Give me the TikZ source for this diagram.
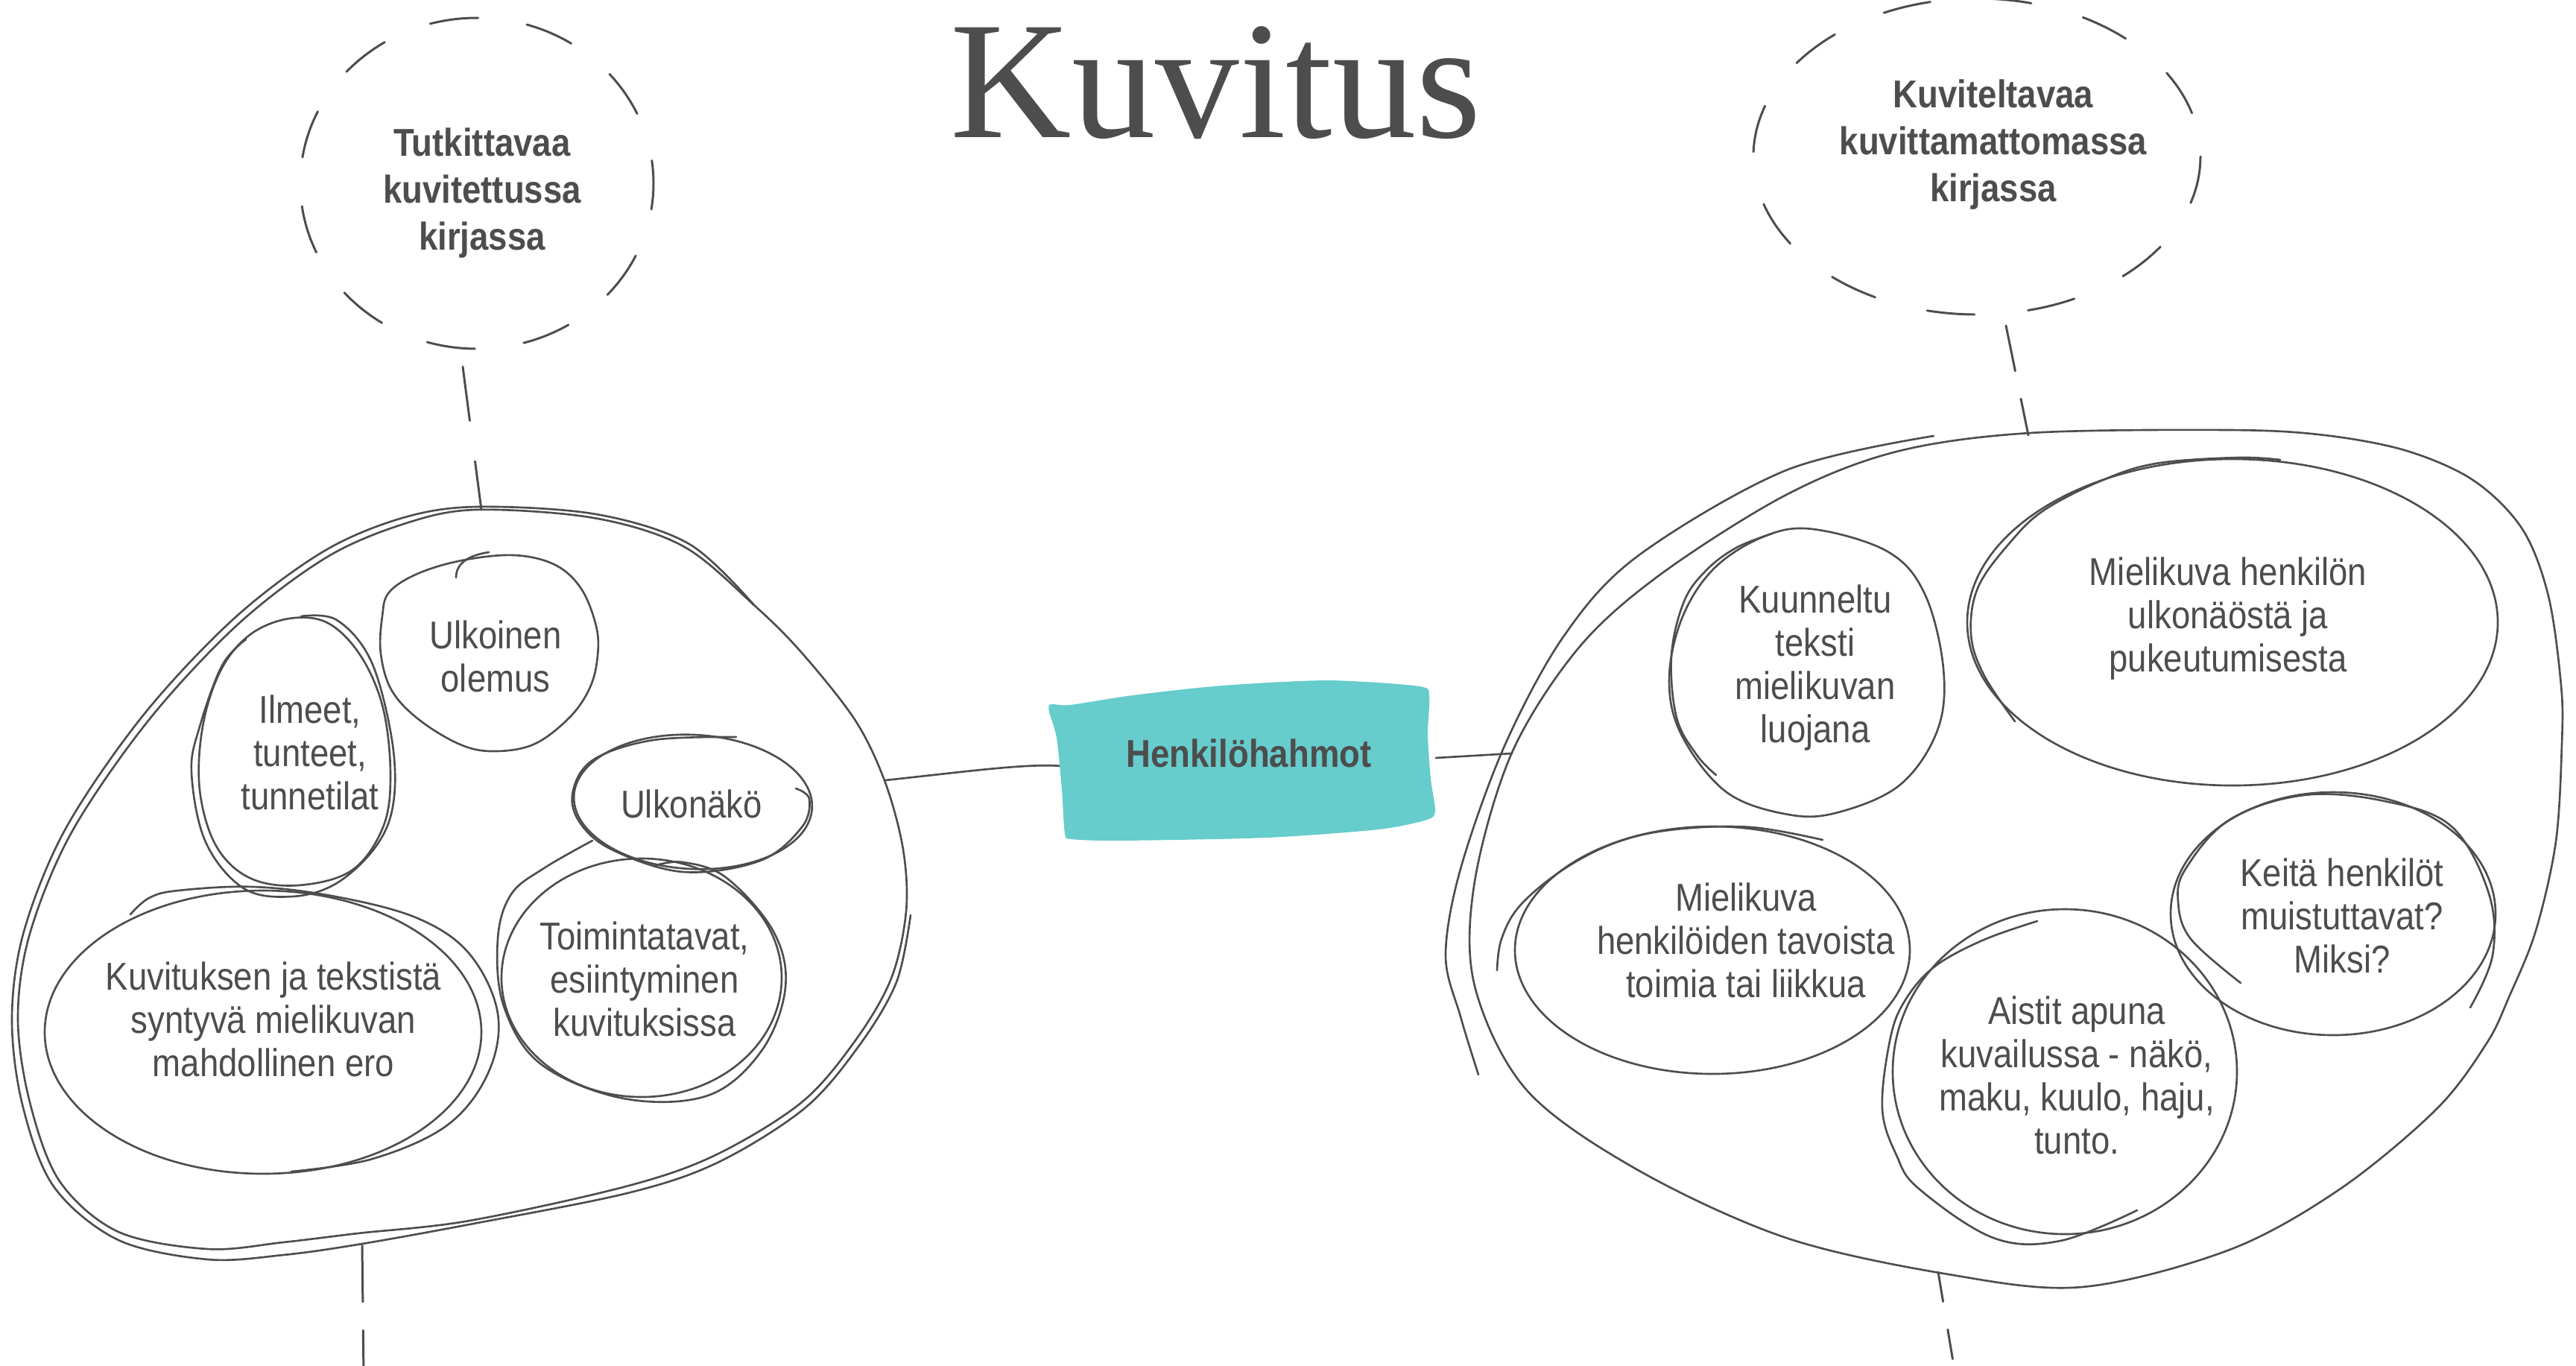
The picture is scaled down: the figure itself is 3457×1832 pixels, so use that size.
\documentclass[tikz,border=0pt]{standalone}
\usepackage{fontspec}
\setmainfont{Liberation Sans}[FakeStretch=0.875]
\newfontfamily\titlefont{Liberation Serif}
\usetikzlibrary{backgrounds}
\definecolor{ink}{HTML}{4D4D4D}
\definecolor{hubfill}{HTML}{66CCCC}
\begin{document}
\begin{tikzpicture}[x=0.01cm, y=-0.01cm,
  sk/.style={draw=ink, line width=0.75pt, line cap=round, line join=round},
  dsk/.style={draw=ink, line width=0.85pt, line cap=round},
  txt/.style={text=ink, align=center, inner sep=0pt, font=\fontsize{14.8}{16.5}\selectfont,
    execute at begin node=\strut, execute at end node=\strut},
  btxt/.style={txt, font=\fontsize{14.8}{17.9}\selectfont\bfseries}]
\useasboundingbox (0,0) rectangle (3457,1832);

% ---------- texts ----------
\node[text=ink, font=\titlefont\fontsize{64}{70}\selectfont, anchor=base, inner sep=0pt] (title) at (1632,184) {Kuvitus};
\node[btxt] (lq) at (647,263) {Tutkittavaa\\kuvitettussa\\kirjassa};
\node[btxt] (rq) at (2675,198) {Kuviteltavaa\\kuvittamattomassa\\kirjassa};
\node[btxt, minimum width=5.0cm, minimum height=2.0cm] (hub) at (1676,1017) {Henkilöhahmot};
\node[txt] (ulk) at (665,889) {Ulkoinen\\olemus};
\node[txt] (ilm) at (416,1018) {Ilmeet,\\tunteet,\\tunnetilat};
\node[txt] (ulkn) at (928,1086) {Ulkonäkö};
\node[txt] (toim) at (865,1322) {Toimintatavat,\\esiintyminen\\kuvituksissa};
\node[txt] (kuv) at (367,1376) {Kuvituksen ja tekstistä\\syntyvä mielikuvan\\mahdollinen ero};
\node[txt] (kuun) at (2436,899) {Kuunneltu\\teksti\\mielikuvan\\luojana};
\node[txt] (mhu) at (2990,833) {Mielikuva henkilön\\ulkonäöstä ja\\pukeutumisesta};
\node[txt] (mht) at (2343,1270) {Mielikuva\\henkilöiden tavoista\\toimia tai liikkua};
\node[txt] (ais) at (2787,1451) {Aistit apuna\\kuvailussa - näkö,\\maku, kuulo, haju,\\tunto.};
\node[txt] (kei) at (3143,1237) {Keitä henkilöt\\muistuttavat?\\Miksi?};

% ---------- coordinates ----------
\coordinate (lbE) at (1188,1047);
\coordinate (rbW) at (2029,1011);
\coordinate (lqS) at (621,492);
\coordinate (lbN) at (646,684);
\coordinate (rqS) at (2692,437);
\coordinate (rbN) at (2722,584);
\coordinate (lbS) at (486,1671);
\coordinate (lbOut) at (488,1845);
\coordinate (rbS) at (2601,1707);
\coordinate (rbOut) at (2624,1845);

% ---------- hub shape and connectors ----------
\begin{scope}[on background layer]
  \draw[sk] (lbE) .. controls (1300,1035) and (1380,1024) .. ([yshift=-0.11cm]hub.west);
  \draw[sk] (hub.east) -- (rbW);
  \fill[hubfill] plot[smooth cycle, tension=0.45] coordinates {(1410,945) (1436,946) (1520,933) (1640,920) (1782,913) (1905,921) (1918,935) (1916,985) (1920,1045) (1926,1088) (1915,1100) (1850,1113) (1700,1124) (1503,1128) (1438,1126) (1429,1118) (1425,1060) (1418,990) (1408,955)};
\end{scope}

% ---------- dashed bubbles ----------
\draw[dsk, dash pattern=on 0.65cm off 0.66cm, dash phase=0.3cm] (640,246) ellipse [x radius=237, y radius=222];
\draw[dsk, dash pattern=on 0.64cm off 0.72cm] (2653,210) ellipse [x radius=300, y radius=212];
\draw[dsk, dash pattern=on 0.73cm off 0.55cm] (lqS) -- (lbN);
\draw[dsk, dash pattern=on 0.62cm off 0.38cm] (rqS) -- (rbN);
\draw[dsk, dash pattern=on 0.76cm off 0.38cm] (lbS) -- (lbOut);
\draw[dsk, dash pattern=on 0.40cm off 0.38cm] (rbS) -- (rbOut);

% ---------- left big blob ----------
\draw[sk] plot[smooth cycle, tension=0.55] coordinates {(638,684) (797,695) (917,733) (1012,812) (1076,876) (1148,967) (1188,1050) (1212,1140) (1216,1223) (1196,1313) (1148,1396) (1076,1479) (960,1550) (840,1592) (630,1638) (480,1655) (380,1667) (279,1676) (159,1653) (80,1585) (40,1479) (24,1366) (40,1253) (96,1117) (199,967) (319,838) (438,748) (542,703)};
\draw[sk] plot[smooth, tension=0.55] coordinates {(1222,1228) (1203,1318) (1153,1403) (1080,1487) (963,1560) (842,1601) (630,1643) (480,1670) (380,1684) (279,1690) (159,1664) (72,1592) (30,1482) (16,1366) (32,1250) (88,1112) (192,960) (314,830) (434,740) (540,695) (640,680) (800,690) (925,730) (1012,812)};

% ---------- right big blob ----------
\draw[sk] plot[smooth cycle, tension=0.55] coordinates {(2724,581) (2992,577) (3120,584) (3230,605) (3320,645) (3385,710) (3420,800) (3437,920) (3438,998) (3430,1129) (3403,1249) (3367,1338) (3337,1400) (3270,1488) (3141,1595) (2992,1677) (2794,1727) (2615,1710) (2397,1661) (2198,1570) (2049,1463) (1979,1323) (1979,1183) (2029,1010) (2118,870) (2228,771) (2397,664) (2545,606)};
\draw[sk] plot[smooth, tension=0.55] coordinates {(2595,585) (2397,631) (2198,746) (2099,853) (2019,1001) (1960,1166) (1940,1282) (1960,1364) (1984,1442)};

% ---------- left inner bubbles ----------
% Ulkoinen olemus
\draw[sk] plot[smooth cycle, tension=0.6] coordinates {(522,795) (560,770) (620,752) (690,745) (745,758) (780,790) (800,840) (802,880) (792,922) (765,962) (718,998) (666,1008) (620,1000) (564,967) (526,927) (511,877) (513,827)};
\draw[sk] (612,775) .. controls (612,755) and (630,745) .. (656,741);
% Ilmeet
\draw[sk] plot[smooth cycle, tension=0.6] coordinates {(388,830) (440,836) (484,880) (514,950) (524,1040) (514,1110) (472,1168) (400,1188) (335,1178) (290,1135) (268,1060) (272,975) (296,900) (335,852)};
\draw[sk] plot[smooth, tension=0.6] coordinates {(404,827) (452,832) (498,887) (526,993) (528,1077) (505,1135) (452,1185) (392,1203) (327,1192) (276,1130) (257,1037) (268,975) (298,893) (330,858)};
% Ulkonako
\draw[sk] (930,1076) ellipse [x radius=160, y radius=90, rotate=-3];
\draw[sk] plot[smooth, tension=0.6] coordinates {(988,989) (877,993) (797,1019) (769,1061) (777,1102) (821,1140) (917,1170) (1020,1155) (1076,1110) (1086,1072) (1068,1058)};
% Toimintatavat
\draw[sk] (861,1312) ellipse [x radius=188, y radius=160];
\draw[sk] plot[smooth, tension=0.6] coordinates {(795,1128) (730,1165) (686,1200) (668,1260) (676,1350) (726,1428) (837,1474) (950,1470) (1022,1410) (1054,1325) (1038,1250) (975,1178) (917,1157) (877,1162)};
% Kuvituksen
\draw[sk] (353,1385) ellipse [x radius=293, y radius=190];
\draw[sk] plot[smooth, tension=0.6] coordinates {(175,1227) (200,1205) (239,1195) (340,1190) (450,1203) (560,1232) (630,1280) (668,1360) (655,1440) (600,1510) (500,1555) (391,1572)};

% ---------- right inner bubbles ----------
% Kuunneltu
\draw[sk] plot[smooth cycle, tension=0.6] coordinates {(2433,710) (2533,740) (2583,797) (2608,897) (2600,980) (2550,1053) (2467,1090) (2400,1093) (2317,1063) (2257,987) (2240,913) (2257,830) (2300,763) (2367,720)};
\draw[sk] plot[smooth, tension=0.6] coordinates {(2378,716) (2330,735) (2290,765) (2260,807) (2243,880) (2250,963) (2277,1013) (2303,1040)};
% Mielikuva henkilon
\draw[sk] (2996,835) ellipse [x radius=356, y radius=219];
\draw[sk] plot[smooth, tension=0.6] coordinates {(2704,968) (2662,905) (2645,850) (2655,787) (2700,725) (2744,684) (2820,645) (2893,622) (3002,614) (3060,617)};
% Mielikuva henkiloiden
\draw[sk] (2298,1275) ellipse [x radius=265, y radius=166];
\draw[sk] plot[smooth, tension=0.6] coordinates {(2009,1302) (2015,1260) (2040,1215) (2099,1166) (2170,1130) (2248,1113) (2350,1110) (2446,1127)};
% Aistit
\draw[sk] (2771,1438) ellipse [x radius=231, y radius=218];
\draw[sk] plot[smooth, tension=0.6] coordinates {(2734,1236) (2660,1262) (2595,1298) (2555,1345) (2536,1397) (2526,1488) (2545,1550) (2575,1595) (2675,1661) (2765,1665) (2868,1624)};
% Keita
\draw[sk] (3131,1226) ellipse [x radius=218, y radius=163];
\draw[sk] plot[smooth, tension=0.6] coordinates {(3007,1319) (2940,1260) (2923,1210) (2933,1166) (2992,1100) (3092,1067) (3200,1075) (3290,1109) (3340,1199) (3345,1282) (3315,1352)};
\end{tikzpicture}
\end{document}
